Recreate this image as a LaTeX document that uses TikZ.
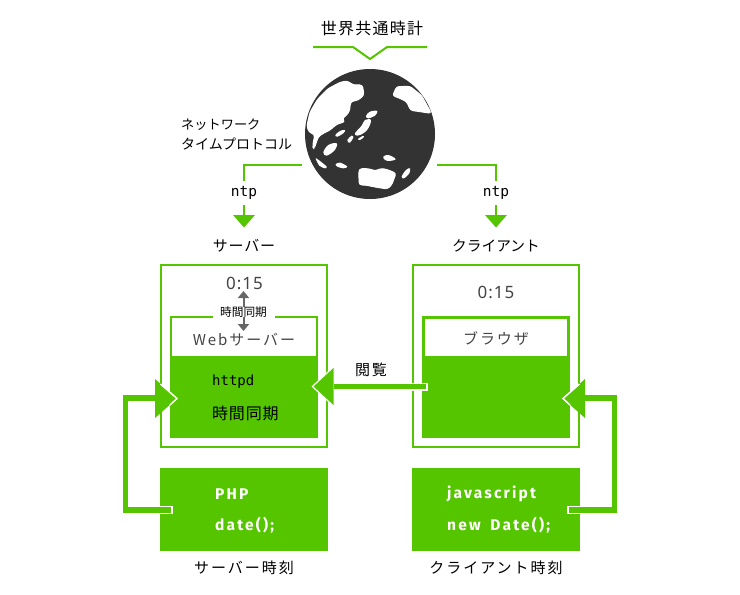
\documentclass[tikz,border=0pt]{standalone}
\usepackage{fontspec}
\setmainfont{Noto Sans CJK JP}
\newfontfamily\monof{DejaVu Sans Mono}
\newfontfamily\numf[LetterSpace=6]{Noto Sans}
\newfontfamily\codef[LetterSpace=14]{Fira Sans}
\newfontfamily\jpwide[LetterSpace=13]{Noto Sans CJK JP}
\newfontfamily\jptitle[LetterSpace=8]{Noto Sans CJK JP}
\newfontfamily\jpmid[LetterSpace=5]{Noto Sans CJK JP}
\definecolor{grn}{HTML}{55C500}
\definecolor{ink}{HTML}{333333}
\definecolor{gry}{HTML}{666666}
\definecolor{txt}{HTML}{444444}
\usetikzlibrary{arrows.meta}
\tikzset{
  x=1pt,y=-1pt,
  frame/.style={draw=grn,line width=2pt,fill=white,outer sep=0pt,inner sep=0pt},
  solid box/.style={fill=grn,draw=none,outer sep=0pt,inner sep=0pt},
  label/.style={inner sep=0pt,font=\jpwide\fontsize{15}{15}\selectfont,text=black},
  darklabel/.style={inner sep=0pt,font=\jpwide\fontsize{15}{15}\selectfont,text=txt},
  codew/.style={inner sep=0pt,anchor=west,font=\codef\bfseries\fontsize{15.5}{15.5}\selectfont,text=white},
  monot/.style={inner sep=0pt,font=\monof\fontsize{14}{14}\selectfont,text=black},
  greenline/.style={draw=grn,line width=2pt},
  fatline/.style={draw=grn,line width=5.5pt},
  land/.style={fill=white,draw=white,line width=1pt,line join=round,rounded corners=2.5pt},
  isle/.style={fill=white,draw=none},
  syncarrow/.style={draw=gry,line width=2pt,-{Triangle[length=7pt,width=11pt]}},
}
\begin{document}
\begin{tikzpicture}
\useasboundingbox (0,0) rectangle (740,595);
\fill[white] (0,0) rectangle (740,595);
% title
\node[label,font=\jptitle\fontsize{16}{16}\selectfont] (title) at (372,28) {世界共通時計};
\draw[greenline] (313,47) -- (353,47) -- (370,59) -- (387,47) -- (427,47);
% globe
\node[circle,fill=ink,minimum size=130pt,inner sep=0pt] (globe) at (370,134) {};
\begin{scope}[shift={(290,5)},x=0.3333pt,y=-0.3333pt]
\draw[land] (51,362) -- (60,322) -- (82,284) -- (113,252) -- (150,232) -- (172,228) -- (190,240) -- (217,240) -- (222,270) -- (205,285) -- (182,290) -- (178,320) -- (165,335) -- (156,340) -- (165,350) -- (140,358) -- (120,375) -- (100,385) -- (85,395) -- (72,432) -- (68,425) -- (72,400) -- (75,390) -- (56,380) -- cycle;
\draw[land] (308,272) -- (320,245) -- (360,244) -- (395,272) -- (424,325) -- (390,320) -- (362,316) -- (350,290) -- (330,280) -- cycle;
\fill[isle] plot[smooth cycle,tension=0.6] coordinates {(228,333) (240,320) (262,318) (255,332) (235,340)};
\fill[isle] plot[smooth cycle,tension=0.6] coordinates {(195,385) (215,362) (225,345) (243,345) (235,370) (220,385) (202,392)};
\fill[isle] plot[smooth cycle,tension=0.6] coordinates {(136,390) (150,378) (165,375) (160,385) (142,395)};
\fill[isle] plot[smooth cycle,tension=0.6] coordinates {(172,405) (185,392) (190,398) (180,413) (174,412)};
\fill[isle] plot[smooth cycle,tension=0.6] coordinates {(204,402) (218,393) (222,396) (210,405)};
\fill[isle] plot[smooth cycle,tension=0.6] coordinates {(100,442) (115,420) (140,415) (135,435) (110,452)};
\fill[isle] plot[smooth cycle,tension=0.5] coordinates {(77,460) (90,468) (110,485) (105,490) (88,482)};
\fill[isle] plot[smooth cycle,tension=0.6] coordinates {(137,478) (150,473) (172,485) (160,490) (142,485)};
\fill[isle] plot[smooth cycle,tension=0.6] coordinates {(280,455) (295,450) (317,462) (300,468) (285,465)};
\fill[isle] plot[smooth cycle,tension=0.6] coordinates {(335,515) (348,495) (360,490) (358,505) (342,520)};
\draw[land] (206,500) -- (212,490) -- (240,492) -- (255,498) -- (275,490) -- (295,495) -- (318,505) -- (305,540) -- (292,552) -- (255,546) -- (225,540) -- (208,540) -- cycle;
\end{scope}
% NTP labels
\node[label,anchor=west,align=left,font=\fontsize{14}{20}\selectfont] (ntplabel) at (181,134) {{\fontsize{13.2}{20}\selectfont ネットワーク}\\タイムプロトコル};
\coordinate (gl) at (302,165);
\coordinate (gr) at (437,165);
\coordinate (tl) at (244,216);
\coordinate (tr) at (496,216);
\draw[greenline] (gl) -- (tl |- gl) -- (tl);
\draw[greenline] (gr) -- (tr |- gr) -- (tr);
\fill[grn] (233,215) -- (255,215) -- (244,227.5) -- cycle;
\fill[grn] (485,215) -- (507,215) -- (496,227.5) -- cycle;
\node[monot,anchor=center,fill=white,minimum width=34pt,minimum height=24pt,font=\monof\fontsize{14.5}{14.5}\selectfont] (n1) at (244,193) {ntp};
\node[monot,anchor=center,fill=white,minimum width=34pt,minimum height=24pt,font=\monof\fontsize{14.5}{14.5}\selectfont] (n2) at (496,193) {ntp};
\node[label,font=\jpmid\fontsize{15}{15}\selectfont] (srv) at (244,246) {サーバー};
\node[label,font=\fontsize{14.7}{14.7}\selectfont] (cli) at (496,246) {クライアント};
% server
\node[frame,minimum width=166pt,minimum height=182pt] (sbox) at (244,356) {};
\node[frame,minimum width=146pt,minimum height=40pt,anchor=north west] (swhite) at (171,317) {};
\node[solid box,minimum width=148pt,minimum height=82pt,anchor=north west] (sgreen) at (170,356) {};
\node[darklabel,font=\numf\fontsize{17}{17}\selectfont] (t1) at (244.5,283) {0:15};
\node[fill=white,minimum width=62pt,minimum height=10pt,inner sep=0pt] (sync) at (244,313) {};
\draw[syncarrow] (243.5,310) -- (243.5,291);
\draw[syncarrow] (243.5,316) -- (243.5,331);
\node[inner xsep=1pt,inner ysep=0pt,fill=white,font=\fontsize{11.7}{11.7}\selectfont] (synct) at (243.5,312) {時間同期};
\node[darklabel] (web) at (244,340) {Webサーバー};
\node[monot,anchor=west] (httpd) at (212,382) {httpd};
\node[label,font=\jpmid\fontsize{16}{16}\selectfont,anchor=west] (syncb) at (212,413) {時間同期};
% client
\node[frame,minimum width=166pt,minimum height=182pt] (cbox) at (496,356) {};
\node[frame,line width=3pt,minimum width=145pt,minimum height=40pt,anchor=north west] (cwhite) at (423.5,317.5) {};
\node[solid box,minimum width=148pt,minimum height=82pt,anchor=north west] (cgreen) at (422,356) {};
\node[darklabel,font=\numf\fontsize{17}{17}\selectfont] (t2) at (496,292) {0:15};
\node[darklabel] (brw) at (496,339) {ブラウザ};
% bottom boxes
\node[solid box,minimum width=168pt,minimum height=83pt,anchor=north west] (sphp) at (160,468) {};
\node[solid box,minimum width=168pt,minimum height=83pt,anchor=north west] (cjs) at (412,468) {};
\node[codew] (php) at (215,494) {PHP};
\node[codew] (date) at (215,525) {date();};
\node[codew] (js) at (447,494) {javascript};
\node[codew] (nd) at (447,525) {new\hspace{4pt} Date();};
\node[label] (st) at (244,568) {サーバー時刻};
\node[label] (ct) at (496,568) {クライアント時刻};
% browse arrow
\node[label,font=\jpwide\fontsize{15}{15}\selectfont] (view) at (371,370) {閲覧};
\coordinate (a1) at (428,386.5);
\draw[white,line width=8pt] (a1) -- (334,386.5);
\draw[fatline] (426,386.5) -- (334,386.5);
\fill[white] (333.5,366) -- (311.5,386.5) -- (333.5,407) -- cycle;
\fill[grn] (333.5,368) -- (313.5,386.5) -- (333.5,405) -- cycle;
% php arrow
\draw[white,line width=8pt] (173,510) -- (160,510);
\draw[fatline] (171,510) -- (125.5,510) -- (125.5,398) -- (156,398);
\fill[grn] (155,379) -- (177,398.5) -- (155,418) -- cycle;
\draw[white,line width=1.5pt] (160.5,384) -- (177,398.5) -- (170,405);
% js arrow
\draw[white,line width=8pt] (567,510) -- (582,510);
\draw[fatline] (569,510) -- (614.5,510) -- (614.5,398) -- (585,398);
\fill[grn] (585,379) -- (563,398.5) -- (585,418) -- cycle;
\draw[white,line width=1.5pt] (579.5,384) -- (563,398.5) -- (570,405);
\end{tikzpicture}
\end{document}
